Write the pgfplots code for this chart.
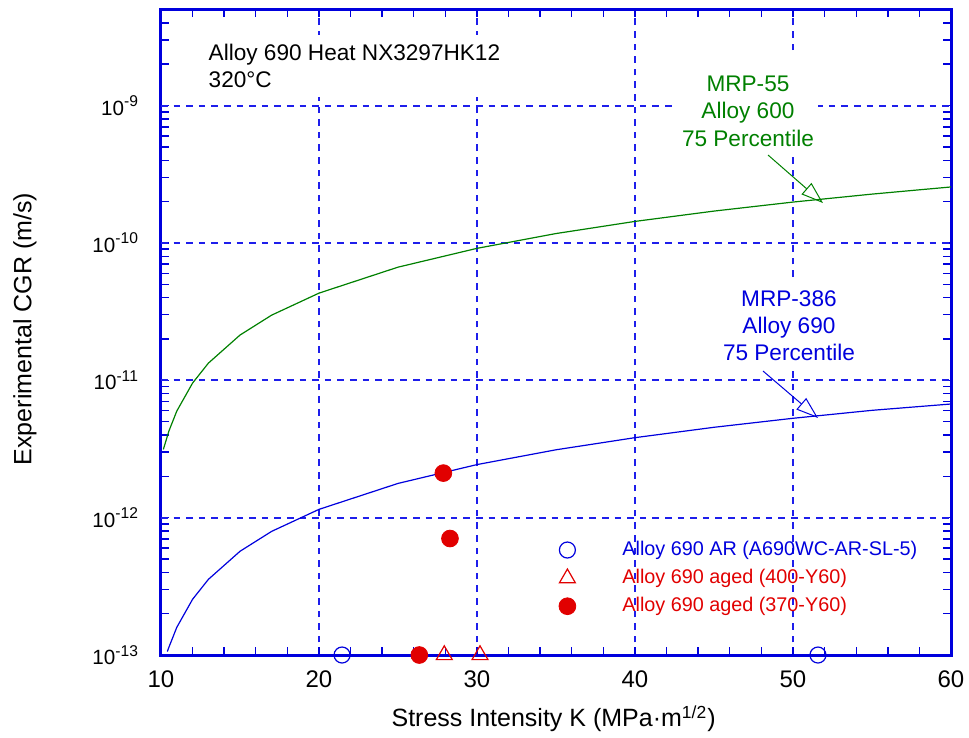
\documentclass[border=0pt]{standalone}
\usepackage{fontspec}
\setmainfont{Liberation Sans}
\usepackage{pgfplots}
\pgfplotsset{compat=1.18}
\usetikzlibrary{arrows.meta}
\definecolor{cblue}{RGB}{0,0,221}
\definecolor{cgreen}{RGB}{0,128,0}
\definecolor{cred}{RGB}{225,0,0}
\definecolor{gridblue}{RGB}{30,30,235}
\newcommand{\tl}[1]{10\raisebox{0.42em}{\fontsize{7.8}{8}\selectfont #1}}
\tikzset{gridline/.style={gridblue, line width=0.7pt, dash pattern=on 3.3pt off 3pt}}
\begin{document}
\begin{tikzpicture}
\begin{axis}[
  scale only axis, width=395pt, height=322.75pt,
  xmin=10, xmax=60, ymode=log, log basis y=10, ymin=1e-13, ymax=5e-9,
  xtick={10,20,30,40,50,60}, minor x tick num=4,
  ytick={1e-13,1e-12,1e-11,1e-10,1e-9},
  yticklabels={\tl{-13},\tl{-12},\tl{-11},\tl{-10},\tl{-9}},
  minor ytick={2e-13,3e-13,4e-13,5e-13,6e-13,7e-13,8e-13,9e-13,
               2e-12,3e-12,4e-12,5e-12,6e-12,7e-12,8e-12,9e-12,
               2e-11,3e-11,4e-11,5e-11,6e-11,7e-11,8e-11,9e-11,
               2e-10,3e-10,4e-10,5e-10,6e-10,7e-10,8e-10,9e-10,
               2e-9,3e-9,4e-9},
  /pgf/number format/assume math mode=true,
  axis line style={cblue, line width=1.5pt},
  tick style={cblue, line width=0.7pt},
  major tick length=4pt, minor tick length=4pt,
  tick align=inside, tick pos=both,
  xmajorgrids,
  major grid style={gridline},
  xticklabel style={font=\fontsize{12}{14}\selectfont, yshift=-4.5pt},
  yticklabel style={font=\fontsize{10.3}{12}\selectfont, xshift=-8pt},
  xlabel={Stress Intensity K (MPa·m\textsuperscript{1/2})},
  ylabel={Experimental CGR (m/s)},
  xlabel style={at={(axis description cs:0.497,-0.1115)}, anchor=base, font=\fontsize{12.5}{15}\selectfont},
  ylabel style={at={(axis description cs:-0.1722,0.505)}, anchor=center, font=\fontsize{12.5}{15}\selectfont},
  legend style={at={(axis description cs:0.5038,0.1766)}, anchor=north west, draw=none, fill=none,
    inner sep=0pt, outer sep=0pt, row sep=5pt, font=\fontsize{9.9}{11}\selectfont,
    nodes={inner sep=0pt, text height=7pt, text depth=2pt},
    /tikz/every odd column/.append style={column sep=23.3pt}},
  legend cell align=left,
]
% horizontal grid lines at the decades
\draw[gridline, line width=1pt] (axis cs:10,1e-9) -- (axis cs:60,1e-9);
\draw[gridline, line width=1pt] (axis cs:10,1e-10) -- (axis cs:60,1e-10);
\draw[gridline, line width=1pt] (axis cs:10,1e-11) -- (axis cs:60,1e-11);
\draw[gridline, line width=1pt] (axis cs:10,1e-12) -- (axis cs:60,1e-12);

\addplot[cgreen, line width=0.6pt, forget plot] coordinates {
(10.15,3.14e-12)(10.5,4.27e-12)(11,5.97e-12)(12,9.55e-12)(13,1.333e-11)(15,2.134e-11)
(17,2.979e-11)(20,4.31e-11)(25,6.66e-11)(30,9.13e-11)(35,1.170e-10)(40,1.434e-10)
(45,1.705e-10)(50,1.983e-10)(55,2.266e-10)(60,2.555e-10)};
\addplot[cblue, line width=0.6pt, forget plot] coordinates {
(10.4,1.06e-13)(10.5,1.139e-13)(11,1.591e-13)(12,2.547e-13)(13,3.555e-13)(15,5.690e-13)(17,7.944e-13)
(20,1.149e-12)(25,1.775e-12)(30,2.434e-12)(35,3.119e-12)(40,3.823e-12)(45,4.548e-12)
(50,5.289e-12)(55,6.043e-12)(60,6.720e-12)};

\addplot[only marks, mark=o, mark size=4pt, cblue, line width=0.6pt] coordinates {(21.46,1e-13)(51.58,1e-13)};
\addlegendentry{\textcolor{cblue}{Alloy 690 AR (A690WC-AR-SL-5)}}
\addplot[only marks, mark=triangle, mark size=4.6pt, cred, line width=0.6pt] coordinates {(27.93,1e-13)(30.19,1e-13)};
\addlegendentry{\textcolor{cred}{Alloy 690 aged (400-Y60)}}
\addplot[only marks, mark=*, mark size=4.2pt, cred, fill=cred] coordinates {(26.35,1e-13)(27.87,2.11e-12)(28.29,7.05e-13)};
\addlegendentry{\textcolor{cred}{Alloy 690 aged (370-Y60)}}

% white backgrounds behind the annotation texts (they interrupt the grid)
\fill[white] (rel axis cs:0.0367,0.8644) rectangle (rel axis cs:0.4418,0.9605);
\fill[white] (rel axis cs:0.6506,0.7746) rectangle (rel axis cs:0.8316,0.9300);
\fill[white] (rel axis cs:0.7013,0.4415) rectangle (rel axis cs:0.8911,0.5763);

\node[anchor=base west, inner sep=0pt, font=\fontsize{11.3}{13}\selectfont] at (rel axis cs:0.0599,0.9218) {Alloy 690 Heat NX3297HK12};
\node[anchor=base west, inner sep=0pt, font=\fontsize{11.3}{13}\selectfont] at (rel axis cs:0.0599,0.8799) {320°C};

\node[anchor=base, inner sep=0pt, text=cgreen, font=\fontsize{11.3}{13}\selectfont] at (rel axis cs:0.7430,0.8737) {MRP-55};
\node[anchor=base, inner sep=0pt, text=cgreen, font=\fontsize{11.3}{13}\selectfont] at (rel axis cs:0.7430,0.8319) {Alloy 600};
\node[anchor=base, inner sep=0pt, text=cgreen, font=\fontsize{11.3}{13}\selectfont] at (rel axis cs:0.7430,0.7885) {75 Percentile};
\draw[cgreen, line width=0.5pt, -{Triangle[open, length=11pt, width=7.5pt]}] (rel axis cs:0.7684,0.7746) -- (rel axis cs:0.8380,0.7002);

\node[anchor=base, inner sep=0pt, text=cblue, font=\fontsize{11.3}{13}\selectfont] at (rel axis cs:0.7949,0.5407) {MRP-386};
\node[anchor=base, inner sep=0pt, text=cblue, font=\fontsize{11.3}{13}\selectfont] at (rel axis cs:0.7949,0.4988) {Alloy 690};
\node[anchor=base, inner sep=0pt, text=cblue, font=\fontsize{11.3}{13}\selectfont] at (rel axis cs:0.7949,0.4555) {75 Percentile};
\draw[cblue, line width=0.5pt, -{Triangle[open, length=11pt, width=7.5pt]}] (rel axis cs:0.7620,0.4400) -- (rel axis cs:0.8316,0.3672);

\path (rel axis cs:0,0) ++(-80.5pt,-41.5pt) coordinate (BL);
\path (rel axis cs:1,1) ++(9pt,4.75pt) coordinate (TR);
\end{axis}
\pgfresetboundingbox
\path[use as bounding box] (BL) rectangle (TR);
\end{tikzpicture}
\end{document}
